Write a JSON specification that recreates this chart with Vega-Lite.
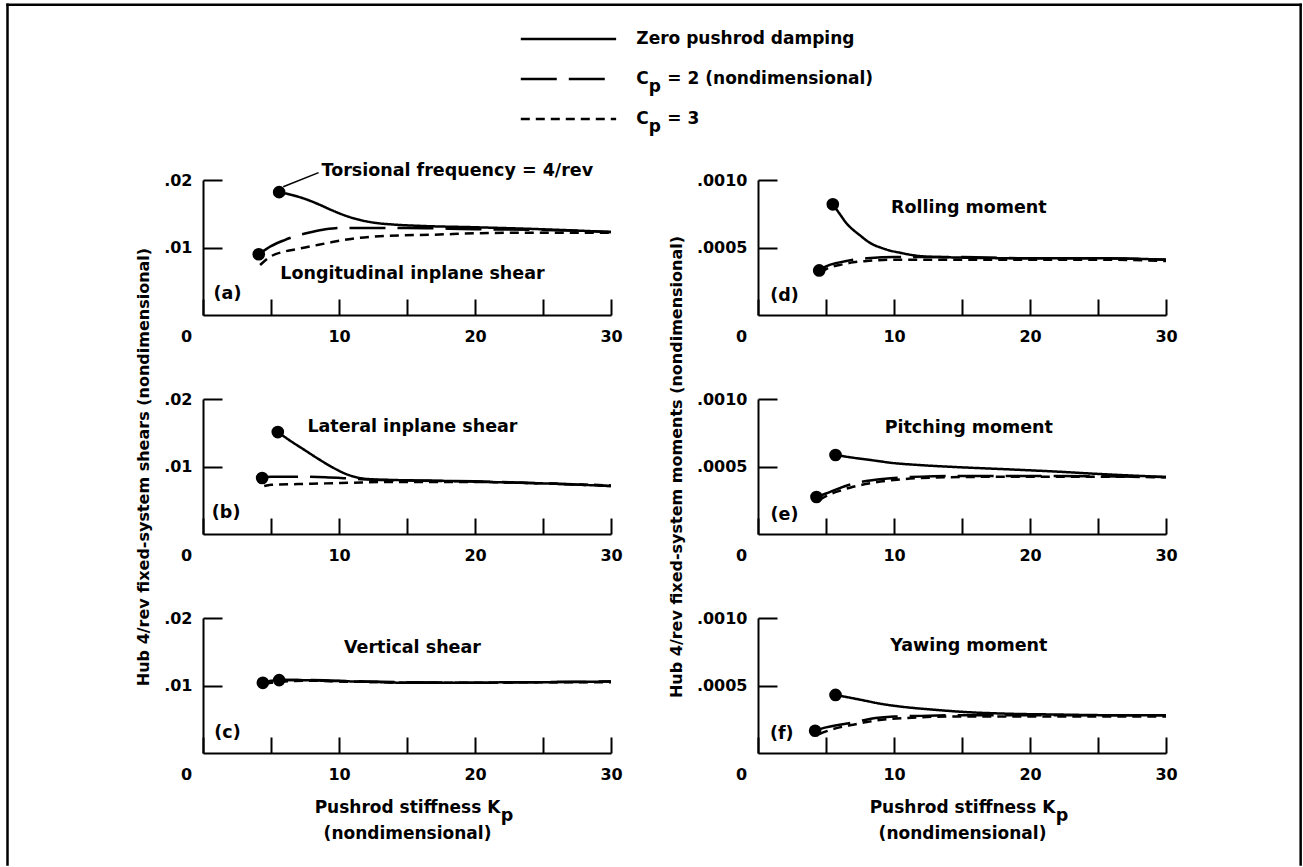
{
  "$schema": "https://vega.github.io/schema/vega-lite/v6.json",
  "background": "white",
  "padding": {"left": 5, "top": 2, "right": 0, "bottom": 0},
  "config": {
    "view": {"stroke": null},
    "line": {"interpolate": "monotone"},
    "axis": {"labelFont": "DejaVu Sans", "labelFontWeight": "bold", "labelFontSize": 16, "labelColor": "black", "titleFont": "DejaVu Sans", "titleFontWeight": "bold", "titleFontSize": 16, "titleColor": "black", "domainColor": "black", "domainWidth": 2, "tickColor": "black", "tickWidth": 2, "grid": false},
    "axisX": {"tickSize": -16, "labelPadding": 29, "labelFlush": false, "labelOverlap": false, "titlePadding": 17, "titleFontSize": 17, "titleLineHeight": 26},
    "axisY": {"tickSize": -19, "labelPadding": 30, "labelFlush": false, "labelOverlap": false, "titlePadding": 12}
  },
  "datasets": {
    "legend": [
      {"series": "Zero pushrod damping", "lead": "Zero pushrod damping", "sub": "", "rest": ""},
      {"series": "Cp = 2 (nondimensional)", "lead": "C", "sub": "p", "rest": "= 2 (nondimensional)"},
      {"series": "Cp = 3", "lead": "C", "sub": "p", "rest": "= 3"}
    ],
    "curves": [
      {"panel": "a", "series": "Zero pushrod damping", "K": 5.6, "value": 0.0182},
      {"panel": "a", "series": "Zero pushrod damping", "K": 6.5, "value": 0.0178},
      {"panel": "a", "series": "Zero pushrod damping", "K": 7.5, "value": 0.0172},
      {"panel": "a", "series": "Zero pushrod damping", "K": 8.5, "value": 0.0164},
      {"panel": "a", "series": "Zero pushrod damping", "K": 9.5, "value": 0.0155},
      {"panel": "a", "series": "Zero pushrod damping", "K": 10.5, "value": 0.0147},
      {"panel": "a", "series": "Zero pushrod damping", "K": 11.5, "value": 0.0141},
      {"panel": "a", "series": "Zero pushrod damping", "K": 12.5, "value": 0.0137},
      {"panel": "a", "series": "Zero pushrod damping", "K": 14, "value": 0.0134},
      {"panel": "a", "series": "Zero pushrod damping", "K": 16, "value": 0.0132},
      {"panel": "a", "series": "Zero pushrod damping", "K": 20, "value": 0.013},
      {"panel": "a", "series": "Zero pushrod damping", "K": 25, "value": 0.0127},
      {"panel": "a", "series": "Zero pushrod damping", "K": 30, "value": 0.0123},
      {"panel": "a", "series": "Cp = 2 (nondimensional)", "K": 4.1, "value": 0.009},
      {"panel": "a", "series": "Cp = 2 (nondimensional)", "K": 5, "value": 0.0102},
      {"panel": "a", "series": "Cp = 2 (nondimensional)", "K": 6, "value": 0.0111},
      {"panel": "a", "series": "Cp = 2 (nondimensional)", "K": 7, "value": 0.0118},
      {"panel": "a", "series": "Cp = 2 (nondimensional)", "K": 8, "value": 0.0123},
      {"panel": "a", "series": "Cp = 2 (nondimensional)", "K": 9, "value": 0.0127},
      {"panel": "a", "series": "Cp = 2 (nondimensional)", "K": 10, "value": 0.0129},
      {"panel": "a", "series": "Cp = 2 (nondimensional)", "K": 12, "value": 0.0129},
      {"panel": "a", "series": "Cp = 2 (nondimensional)", "K": 15, "value": 0.0129},
      {"panel": "a", "series": "Cp = 2 (nondimensional)", "K": 20, "value": 0.0127},
      {"panel": "a", "series": "Cp = 2 (nondimensional)", "K": 25, "value": 0.0126},
      {"panel": "a", "series": "Cp = 2 (nondimensional)", "K": 30, "value": 0.0123},
      {"panel": "a", "series": "Cp = 3", "K": 4.2, "value": 0.0074},
      {"panel": "a", "series": "Cp = 3", "K": 5, "value": 0.0087},
      {"panel": "a", "series": "Cp = 3", "K": 6, "value": 0.0094},
      {"panel": "a", "series": "Cp = 3", "K": 7, "value": 0.0098},
      {"panel": "a", "series": "Cp = 3", "K": 8, "value": 0.0102},
      {"panel": "a", "series": "Cp = 3", "K": 9.5, "value": 0.0108},
      {"panel": "a", "series": "Cp = 3", "K": 11, "value": 0.0113},
      {"panel": "a", "series": "Cp = 3", "K": 12.5, "value": 0.0116},
      {"panel": "a", "series": "Cp = 3", "K": 14.5, "value": 0.0118},
      {"panel": "a", "series": "Cp = 3", "K": 17, "value": 0.0119},
      {"panel": "a", "series": "Cp = 3", "K": 20, "value": 0.0121},
      {"panel": "a", "series": "Cp = 3", "K": 25, "value": 0.0122},
      {"panel": "a", "series": "Cp = 3", "K": 30, "value": 0.0122},

      {"panel": "b", "series": "Zero pushrod damping", "K": 5.5, "value": 0.0151},
      {"panel": "b", "series": "Zero pushrod damping", "K": 6.5, "value": 0.0137},
      {"panel": "b", "series": "Zero pushrod damping", "K": 7.5, "value": 0.0124},
      {"panel": "b", "series": "Zero pushrod damping", "K": 8.5, "value": 0.0111},
      {"panel": "b", "series": "Zero pushrod damping", "K": 9.5, "value": 0.0099},
      {"panel": "b", "series": "Zero pushrod damping", "K": 10.5, "value": 0.0089},
      {"panel": "b", "series": "Zero pushrod damping", "K": 11.5, "value": 0.0083},
      {"panel": "b", "series": "Zero pushrod damping", "K": 12.5, "value": 0.0081},
      {"panel": "b", "series": "Zero pushrod damping", "K": 14, "value": 0.008},
      {"panel": "b", "series": "Zero pushrod damping", "K": 17, "value": 0.0079},
      {"panel": "b", "series": "Zero pushrod damping", "K": 21, "value": 0.0077},
      {"panel": "b", "series": "Zero pushrod damping", "K": 25, "value": 0.0075},
      {"panel": "b", "series": "Zero pushrod damping", "K": 30, "value": 0.0071},
      {"panel": "b", "series": "Cp = 2 (nondimensional)", "K": 4.35, "value": 0.0083},
      {"panel": "b", "series": "Cp = 2 (nondimensional)", "K": 5, "value": 0.0085},
      {"panel": "b", "series": "Cp = 2 (nondimensional)", "K": 7, "value": 0.0085},
      {"panel": "b", "series": "Cp = 2 (nondimensional)", "K": 9, "value": 0.0084},
      {"panel": "b", "series": "Cp = 2 (nondimensional)", "K": 11, "value": 0.0082},
      {"panel": "b", "series": "Cp = 2 (nondimensional)", "K": 13, "value": 0.008},
      {"panel": "b", "series": "Cp = 2 (nondimensional)", "K": 16, "value": 0.0079},
      {"panel": "b", "series": "Cp = 2 (nondimensional)", "K": 20, "value": 0.0078},
      {"panel": "b", "series": "Cp = 2 (nondimensional)", "K": 25, "value": 0.0075},
      {"panel": "b", "series": "Cp = 2 (nondimensional)", "K": 30, "value": 0.0071},
      {"panel": "b", "series": "Cp = 3", "K": 4.5, "value": 0.0071},
      {"panel": "b", "series": "Cp = 3", "K": 5, "value": 0.0073},
      {"panel": "b", "series": "Cp = 3", "K": 7, "value": 0.0074},
      {"panel": "b", "series": "Cp = 3", "K": 9, "value": 0.0075},
      {"panel": "b", "series": "Cp = 3", "K": 11, "value": 0.0076},
      {"panel": "b", "series": "Cp = 3", "K": 13, "value": 0.0077},
      {"panel": "b", "series": "Cp = 3", "K": 16, "value": 0.0077},
      {"panel": "b", "series": "Cp = 3", "K": 20, "value": 0.0077},
      {"panel": "b", "series": "Cp = 3", "K": 25, "value": 0.0075},
      {"panel": "b", "series": "Cp = 3", "K": 30, "value": 0.0072},

      {"panel": "c", "series": "Zero pushrod damping", "K": 5.6, "value": 0.0108},
      {"panel": "c", "series": "Zero pushrod damping", "K": 7, "value": 0.0108},
      {"panel": "c", "series": "Zero pushrod damping", "K": 9, "value": 0.0107},
      {"panel": "c", "series": "Zero pushrod damping", "K": 11, "value": 0.0106},
      {"panel": "c", "series": "Zero pushrod damping", "K": 13, "value": 0.0105},
      {"panel": "c", "series": "Zero pushrod damping", "K": 15, "value": 0.0104},
      {"panel": "c", "series": "Zero pushrod damping", "K": 18, "value": 0.0104},
      {"panel": "c", "series": "Zero pushrod damping", "K": 20, "value": 0.0104},
      {"panel": "c", "series": "Zero pushrod damping", "K": 23, "value": 0.0105},
      {"panel": "c", "series": "Zero pushrod damping", "K": 26, "value": 0.0105},
      {"panel": "c", "series": "Zero pushrod damping", "K": 30, "value": 0.0106},
      {"panel": "c", "series": "Cp = 2 (nondimensional)", "K": 4.4, "value": 0.0104},
      {"panel": "c", "series": "Cp = 2 (nondimensional)", "K": 5, "value": 0.0107},
      {"panel": "c", "series": "Cp = 2 (nondimensional)", "K": 6, "value": 0.0108},
      {"panel": "c", "series": "Cp = 2 (nondimensional)", "K": 8, "value": 0.0108},
      {"panel": "c", "series": "Cp = 2 (nondimensional)", "K": 10, "value": 0.0107},
      {"panel": "c", "series": "Cp = 2 (nondimensional)", "K": 12, "value": 0.0106},
      {"panel": "c", "series": "Cp = 2 (nondimensional)", "K": 15, "value": 0.0105},
      {"panel": "c", "series": "Cp = 2 (nondimensional)", "K": 20, "value": 0.0104},
      {"panel": "c", "series": "Cp = 2 (nondimensional)", "K": 25, "value": 0.0105},
      {"panel": "c", "series": "Cp = 2 (nondimensional)", "K": 30, "value": 0.0106},
      {"panel": "c", "series": "Cp = 3", "K": 4.5, "value": 0.0102},
      {"panel": "c", "series": "Cp = 3", "K": 5, "value": 0.0104},
      {"panel": "c", "series": "Cp = 3", "K": 6, "value": 0.0106},
      {"panel": "c", "series": "Cp = 3", "K": 8, "value": 0.0107},
      {"panel": "c", "series": "Cp = 3", "K": 10, "value": 0.0106},
      {"panel": "c", "series": "Cp = 3", "K": 13, "value": 0.0105},
      {"panel": "c", "series": "Cp = 3", "K": 16, "value": 0.0104},
      {"panel": "c", "series": "Cp = 3", "K": 20, "value": 0.0104},
      {"panel": "c", "series": "Cp = 3", "K": 25, "value": 0.0105},
      {"panel": "c", "series": "Cp = 3", "K": 30, "value": 0.0105},

      {"panel": "d", "series": "Zero pushrod damping", "K": 5.5, "value": 0.00082},
      {"panel": "d", "series": "Zero pushrod damping", "K": 6, "value": 0.00075},
      {"panel": "d", "series": "Zero pushrod damping", "K": 6.5, "value": 0.00068},
      {"panel": "d", "series": "Zero pushrod damping", "K": 7, "value": 0.00063},
      {"panel": "d", "series": "Zero pushrod damping", "K": 7.5, "value": 0.00059},
      {"panel": "d", "series": "Zero pushrod damping", "K": 8, "value": 0.00055},
      {"panel": "d", "series": "Zero pushrod damping", "K": 8.5, "value": 0.00052},
      {"panel": "d", "series": "Zero pushrod damping", "K": 9, "value": 0.0005},
      {"panel": "d", "series": "Zero pushrod damping", "K": 9.6, "value": 0.00048},
      {"panel": "d", "series": "Zero pushrod damping", "K": 10.5, "value": 0.00046},
      {"panel": "d", "series": "Zero pushrod damping", "K": 11.6, "value": 0.00044},
      {"panel": "d", "series": "Zero pushrod damping", "K": 13, "value": 0.00043},
      {"panel": "d", "series": "Zero pushrod damping", "K": 20, "value": 0.00042},
      {"panel": "d", "series": "Zero pushrod damping", "K": 25, "value": 0.00042},
      {"panel": "d", "series": "Zero pushrod damping", "K": 30, "value": 0.00041},
      {"panel": "d", "series": "Cp = 2 (nondimensional)", "K": 4.5, "value": 0.00033},
      {"panel": "d", "series": "Cp = 2 (nondimensional)", "K": 5, "value": 0.00036},
      {"panel": "d", "series": "Cp = 2 (nondimensional)", "K": 6, "value": 0.00039},
      {"panel": "d", "series": "Cp = 2 (nondimensional)", "K": 7, "value": 0.00041},
      {"panel": "d", "series": "Cp = 2 (nondimensional)", "K": 8, "value": 0.00042},
      {"panel": "d", "series": "Cp = 2 (nondimensional)", "K": 10, "value": 0.00043},
      {"panel": "d", "series": "Cp = 2 (nondimensional)", "K": 15, "value": 0.00043},
      {"panel": "d", "series": "Cp = 2 (nondimensional)", "K": 20, "value": 0.00042},
      {"panel": "d", "series": "Cp = 2 (nondimensional)", "K": 25, "value": 0.00042},
      {"panel": "d", "series": "Cp = 2 (nondimensional)", "K": 30, "value": 0.00041},
      {"panel": "d", "series": "Cp = 3", "K": 4.6, "value": 0.00031},
      {"panel": "d", "series": "Cp = 3", "K": 5, "value": 0.00034},
      {"panel": "d", "series": "Cp = 3", "K": 6, "value": 0.00037},
      {"panel": "d", "series": "Cp = 3", "K": 7, "value": 0.00039},
      {"panel": "d", "series": "Cp = 3", "K": 8, "value": 0.0004},
      {"panel": "d", "series": "Cp = 3", "K": 10, "value": 0.00041},
      {"panel": "d", "series": "Cp = 3", "K": 15, "value": 0.00041},
      {"panel": "d", "series": "Cp = 3", "K": 20, "value": 0.00041},
      {"panel": "d", "series": "Cp = 3", "K": 25, "value": 0.00041},
      {"panel": "d", "series": "Cp = 3", "K": 30, "value": 0.0004},

      {"panel": "e", "series": "Zero pushrod damping", "K": 5.7, "value": 0.000585},
      {"panel": "e", "series": "Zero pushrod damping", "K": 7, "value": 0.000565},
      {"panel": "e", "series": "Zero pushrod damping", "K": 8.5, "value": 0.000545},
      {"panel": "e", "series": "Zero pushrod damping", "K": 10, "value": 0.000525},
      {"panel": "e", "series": "Zero pushrod damping", "K": 12, "value": 0.00051},
      {"panel": "e", "series": "Zero pushrod damping", "K": 14.5, "value": 0.000496},
      {"panel": "e", "series": "Zero pushrod damping", "K": 17, "value": 0.000485},
      {"panel": "e", "series": "Zero pushrod damping", "K": 19.5, "value": 0.000474},
      {"panel": "e", "series": "Zero pushrod damping", "K": 22, "value": 0.000462},
      {"panel": "e", "series": "Zero pushrod damping", "K": 25, "value": 0.000445},
      {"panel": "e", "series": "Zero pushrod damping", "K": 30, "value": 0.000422},
      {"panel": "e", "series": "Cp = 2 (nondimensional)", "K": 4.3, "value": 0.000274},
      {"panel": "e", "series": "Cp = 2 (nondimensional)", "K": 5, "value": 0.0003},
      {"panel": "e", "series": "Cp = 2 (nondimensional)", "K": 6, "value": 0.00034},
      {"panel": "e", "series": "Cp = 2 (nondimensional)", "K": 7.2, "value": 0.000378},
      {"panel": "e", "series": "Cp = 2 (nondimensional)", "K": 8.5, "value": 0.0004},
      {"panel": "e", "series": "Cp = 2 (nondimensional)", "K": 10, "value": 0.000415},
      {"panel": "e", "series": "Cp = 2 (nondimensional)", "K": 12, "value": 0.000425},
      {"panel": "e", "series": "Cp = 2 (nondimensional)", "K": 15, "value": 0.00043},
      {"panel": "e", "series": "Cp = 2 (nondimensional)", "K": 20, "value": 0.00043},
      {"panel": "e", "series": "Cp = 2 (nondimensional)", "K": 25, "value": 0.000428},
      {"panel": "e", "series": "Cp = 2 (nondimensional)", "K": 30, "value": 0.000422},
      {"panel": "e", "series": "Cp = 3", "K": 4.5, "value": 0.00025},
      {"panel": "e", "series": "Cp = 3", "K": 5, "value": 0.00028},
      {"panel": "e", "series": "Cp = 3", "K": 6, "value": 0.00032},
      {"panel": "e", "series": "Cp = 3", "K": 7, "value": 0.00035},
      {"panel": "e", "series": "Cp = 3", "K": 8.5, "value": 0.00038},
      {"panel": "e", "series": "Cp = 3", "K": 10, "value": 0.0004},
      {"panel": "e", "series": "Cp = 3", "K": 12, "value": 0.000415},
      {"panel": "e", "series": "Cp = 3", "K": 15, "value": 0.000422},
      {"panel": "e", "series": "Cp = 3", "K": 20, "value": 0.000425},
      {"panel": "e", "series": "Cp = 3", "K": 25, "value": 0.000425},
      {"panel": "e", "series": "Cp = 3", "K": 30, "value": 0.00042},

      {"panel": "f", "series": "Zero pushrod damping", "K": 5.7, "value": 0.00043},
      {"panel": "f", "series": "Zero pushrod damping", "K": 7, "value": 0.000405},
      {"panel": "f", "series": "Zero pushrod damping", "K": 8, "value": 0.000385},
      {"panel": "f", "series": "Zero pushrod damping", "K": 9, "value": 0.000365},
      {"panel": "f", "series": "Zero pushrod damping", "K": 10, "value": 0.00035},
      {"panel": "f", "series": "Zero pushrod damping", "K": 11.5, "value": 0.000333},
      {"panel": "f", "series": "Zero pushrod damping", "K": 13, "value": 0.00032},
      {"panel": "f", "series": "Zero pushrod damping", "K": 15, "value": 0.000305},
      {"panel": "f", "series": "Zero pushrod damping", "K": 18, "value": 0.000292},
      {"panel": "f", "series": "Zero pushrod damping", "K": 22, "value": 0.000285},
      {"panel": "f", "series": "Zero pushrod damping", "K": 26, "value": 0.00028},
      {"panel": "f", "series": "Zero pushrod damping", "K": 30, "value": 0.00028},
      {"panel": "f", "series": "Cp = 2 (nondimensional)", "K": 4.2, "value": 0.000165},
      {"panel": "f", "series": "Cp = 2 (nondimensional)", "K": 5, "value": 0.00019},
      {"panel": "f", "series": "Cp = 2 (nondimensional)", "K": 6, "value": 0.00021},
      {"panel": "f", "series": "Cp = 2 (nondimensional)", "K": 7.2, "value": 0.00023},
      {"panel": "f", "series": "Cp = 2 (nondimensional)", "K": 8.3, "value": 0.000254},
      {"panel": "f", "series": "Cp = 2 (nondimensional)", "K": 10, "value": 0.00027},
      {"panel": "f", "series": "Cp = 2 (nondimensional)", "K": 12, "value": 0.000275},
      {"panel": "f", "series": "Cp = 2 (nondimensional)", "K": 15, "value": 0.00028},
      {"panel": "f", "series": "Cp = 2 (nondimensional)", "K": 20, "value": 0.00028},
      {"panel": "f", "series": "Cp = 2 (nondimensional)", "K": 25, "value": 0.00028},
      {"panel": "f", "series": "Cp = 2 (nondimensional)", "K": 30, "value": 0.00028},
      {"panel": "f", "series": "Cp = 3", "K": 4.5, "value": 0.00014},
      {"panel": "f", "series": "Cp = 3", "K": 5, "value": 0.00016},
      {"panel": "f", "series": "Cp = 3", "K": 6, "value": 0.00019},
      {"panel": "f", "series": "Cp = 3", "K": 7, "value": 0.00021},
      {"panel": "f", "series": "Cp = 3", "K": 8, "value": 0.00023},
      {"panel": "f", "series": "Cp = 3", "K": 9.5, "value": 0.00025},
      {"panel": "f", "series": "Cp = 3", "K": 11, "value": 0.00026},
      {"panel": "f", "series": "Cp = 3", "K": 14, "value": 0.00027},
      {"panel": "f", "series": "Cp = 3", "K": 18, "value": 0.00027},
      {"panel": "f", "series": "Cp = 3", "K": 22, "value": 0.00027},
      {"panel": "f", "series": "Cp = 3", "K": 26, "value": 0.00027},
      {"panel": "f", "series": "Cp = 3", "K": 30, "value": 0.00027}
    ],
    "dots": [
      {"panel": "a", "series": "Zero pushrod damping", "K": 5.6, "value": 0.0182},
      {"panel": "a", "series": "Cp = 2 (nondimensional)", "K": 4.1, "value": 0.009},
      {"panel": "b", "series": "Zero pushrod damping", "K": 5.5, "value": 0.0151},
      {"panel": "b", "series": "Cp = 2 (nondimensional)", "K": 4.35, "value": 0.0083},
      {"panel": "c", "series": "Zero pushrod damping", "K": 5.6, "value": 0.0108},
      {"panel": "c", "series": "Cp = 2 (nondimensional)", "K": 4.4, "value": 0.0104},
      {"panel": "d", "series": "Zero pushrod damping", "K": 5.5, "value": 0.00082},
      {"panel": "d", "series": "Cp = 2 (nondimensional)", "K": 4.5, "value": 0.00033},
      {"panel": "e", "series": "Zero pushrod damping", "K": 5.7, "value": 0.000585},
      {"panel": "e", "series": "Cp = 2 (nondimensional)", "K": 4.3, "value": 0.000274},
      {"panel": "f", "series": "Zero pushrod damping", "K": 5.7, "value": 0.00043},
      {"panel": "f", "series": "Cp = 2 (nondimensional)", "K": 4.2, "value": 0.000165}
    ],
    "notes": [
      {"panel": "a", "text": "Torsional frequency = 4/rev", "K": 18.7, "value": 0.0213},
      {"panel": "a", "text": "Longitudinal inplane shear", "K": 15.4, "value": 0.0061},
      {"panel": "a", "text": "(a)", "K": 1.8, "value": 0.0031},
      {"panel": "b", "text": "Lateral inplane shear", "K": 15.4, "value": 0.0159},
      {"panel": "b", "text": "(b)", "K": 1.7, "value": 0.0031},
      {"panel": "c", "text": "Vertical shear", "K": 15.4, "value": 0.0156},
      {"panel": "c", "text": "(c)", "K": 1.8, "value": 0.003},
      {"panel": "c", "text": "p", "K": 22.35, "value": -0.0094},
      {"panel": "d", "text": "Rolling moment", "K": 15.5, "value": 0.00079},
      {"panel": "d", "text": "(d)", "K": 1.95, "value": 0.00014},
      {"panel": "e", "text": "Pitching moment", "K": 15.5, "value": 0.000785},
      {"panel": "e", "text": "(e)", "K": 1.95, "value": 0.00014},
      {"panel": "f", "text": "Yawing moment", "K": 15.5, "value": 0.00079},
      {"panel": "f", "text": "(f)", "K": 1.75, "value": 0.00014},
      {"panel": "f", "text": "p", "K": 22.35, "value": -0.00047}
    ],
    "leaders": [
      {"panel": "a", "K": 5.9, "value": 0.019, "K2": 8.5, "value2": 0.0211}
    ]
  },
  "vconcat": [
    {
      "width": 963,
      "height": 80,
      "data": {"name": "legend"},
      "encoding": {
        "y": {"field": "series", "type": "nominal", "scale": {"type": "point", "padding": 0, "domain": ["Zero pushrod damping", "Cp = 2 (nondimensional)", "Cp = 3"]}, "axis": null}
      },
      "layer": [
        {
          "mark": {"type": "rule", "color": "black", "strokeWidth": 2.5},
          "encoding": {
            "x": {"datum": 9.9, "type": "quantitative", "scale": {"domain": [0, 30], "nice": false}, "axis": null},
            "x2": {"datum": 12.87},
            "strokeDash": {"field": "series", "type": "nominal", "scale": {"domain": ["Zero pushrod damping", "Cp = 2 (nondimensional)", "Cp = 3"], "range": [[1, 0], [36, 12], [9, 6]]}, "legend": null}
          }
        },
        {
          "mark": {"type": "text", "align": "left", "baseline": "middle", "font": "DejaVu Sans", "fontWeight": "bold", "fontSize": 17, "color": "black"},
          "encoding": {"x": {"datum": 13.5, "type": "quantitative"}, "text": {"field": "lead"}}
        },
        {
          "mark": {"type": "text", "align": "left", "baseline": "middle", "font": "DejaVu Sans", "fontWeight": "bold", "fontSize": 17, "color": "black", "dx": 12.5, "dy": 8},
          "encoding": {"x": {"datum": 13.5, "type": "quantitative"}, "text": {"field": "sub"}}
        },
        {
          "mark": {"type": "text", "align": "left", "baseline": "middle", "font": "DejaVu Sans", "fontWeight": "bold", "fontSize": 17, "color": "black", "dx": 31},
          "encoding": {"x": {"datum": 13.5, "type": "quantitative"}, "text": {"field": "rest"}}
        }
      ]
    },
    {
      "concat": [
        {
          "width": 408, "height": 135,
          "layer": [
            {"data": {"name": "curves"}, "transform": [{"filter": "datum.panel === 'a'"}],
             "mark": {"type": "line", "color": "black", "strokeWidth": 2.5},
             "encoding": {
               "x": {"field": "K", "type": "quantitative", "scale": {"domain": [0, 30], "nice": false}, "axis": {"values": [0, 5, 10, 15, 20, 25, 30], "labelExpr": "datum.value % 10 === 0 ? datum.label : ''", "labelOffset": {"condition": {"test": "datum.value === 0", "value": -17}, "value": 0}, "title": null}},
               "y": {"field": "value", "type": "quantitative", "scale": {"domain": [0, 0.02], "nice": false}, "axis": {"values": [0.01, 0.02], "labelExpr": "replace(format(datum.value, '.2f'), '0.', '.')", "title": null}},
               "strokeDash": {"field": "series", "type": "nominal", "scale": {"domain": ["Zero pushrod damping", "Cp = 2 (nondimensional)", "Cp = 3"], "range": [[1, 0], [36, 10], [9, 6]]}, "legend": null}
             }},
            {"data": {"name": "dots"}, "transform": [{"filter": "datum.panel === 'a'"}],
             "mark": {"type": "circle", "color": "black", "size": 160, "opacity": 1},
             "encoding": {"x": {"field": "K", "type": "quantitative"}, "y": {"field": "value", "type": "quantitative"}}},
            {"data": {"name": "leaders"}, "transform": [{"filter": "datum.panel === 'a'"}],
             "mark": {"type": "rule", "color": "black", "strokeWidth": 1.5},
             "encoding": {"x": {"field": "K", "type": "quantitative"}, "y": {"field": "value", "type": "quantitative"}, "x2": {"field": "K2"}, "y2": {"field": "value2"}}},
            {"data": {"name": "notes"}, "transform": [{"filter": "datum.panel === 'a'"}],
             "mark": {"type": "text", "align": "center", "baseline": "middle", "font": "DejaVu Sans", "fontWeight": "bold", "fontSize": 17.5, "color": "black"},
             "encoding": {"x": {"field": "K", "type": "quantitative"}, "y": {"field": "value", "type": "quantitative"}, "text": {"field": "text"}}},
            {"data": {"name": "leaders"}, "transform": [{"filter": "datum.panel === 'a'"}],
             "mark": {"type": "rule", "color": "black", "strokeWidth": 2.5, "strokeCap": "square"},
             "encoding": {"x": {"datum": -14.375, "type": "quantitative"}, "y": {"datum": 0.04597, "type": "quantitative"}, "y2": {"datum": -0.08141}}},
            {"data": {"name": "leaders"}, "transform": [{"filter": "datum.panel === 'a'"}],
             "mark": {"type": "rule", "color": "black", "strokeWidth": 2.5, "strokeCap": "square"},
             "encoding": {"x": {"datum": -14.375, "type": "quantitative"}, "x2": {"datum": 80.71}, "y": {"datum": 0.04597, "type": "quantitative"}}},
            {"data": {"name": "leaders"}, "transform": [{"filter": "datum.panel === 'a'"}],
             "mark": {"type": "rule", "color": "black", "strokeWidth": 2.5, "strokeCap": "square"},
             "encoding": {"x": {"datum": 80.71, "type": "quantitative"}, "y": {"datum": 0.04597, "type": "quantitative"}, "y2": {"datum": -0.08141}}}
          ]
        },
        {
          "width": 408, "height": 135,
          "layer": [
            {"data": {"name": "curves"}, "transform": [{"filter": "datum.panel === 'd'"}],
             "mark": {"type": "line", "color": "black", "strokeWidth": 2.5},
             "encoding": {
               "x": {"field": "K", "type": "quantitative", "scale": {"domain": [0, 30], "nice": false}, "axis": {"values": [0, 5, 10, 15, 20, 25, 30], "labelExpr": "datum.value % 10 === 0 ? datum.label : ''", "labelOffset": {"condition": {"test": "datum.value === 0", "value": -17}, "value": 0}, "title": null}},
               "y": {"field": "value", "type": "quantitative", "scale": {"domain": [0, 0.001], "nice": false}, "axis": {"values": [0.0005, 0.001], "labelExpr": "replace(format(datum.value, '.4f'), '0.', '.')", "title": null}},
               "strokeDash": {"field": "series", "type": "nominal", "scale": {"domain": ["Zero pushrod damping", "Cp = 2 (nondimensional)", "Cp = 3"], "range": [[1, 0], [36, 10], [9, 6]]}, "legend": null}
             }},
            {"data": {"name": "dots"}, "transform": [{"filter": "datum.panel === 'd'"}],
             "mark": {"type": "circle", "color": "black", "size": 160, "opacity": 1},
             "encoding": {"x": {"field": "K", "type": "quantitative"}, "y": {"field": "value", "type": "quantitative"}}},
            {"data": {"name": "notes"}, "transform": [{"filter": "datum.panel === 'd'"}],
             "mark": {"type": "text", "align": "center", "baseline": "middle", "font": "DejaVu Sans", "fontWeight": "bold", "fontSize": 17.5, "color": "black"},
             "encoding": {"x": {"field": "K", "type": "quantitative"}, "y": {"field": "value", "type": "quantitative"}, "text": {"field": "text"}}}
          ]
        },
        {
          "width": 408, "height": 135,
          "layer": [
            {"data": {"name": "curves"}, "transform": [{"filter": "datum.panel === 'b'"}],
             "mark": {"type": "line", "color": "black", "strokeWidth": 2.5},
             "encoding": {
               "x": {"field": "K", "type": "quantitative", "scale": {"domain": [0, 30], "nice": false}, "axis": {"values": [0, 5, 10, 15, 20, 25, 30], "labelExpr": "datum.value % 10 === 0 ? datum.label : ''", "labelOffset": {"condition": {"test": "datum.value === 0", "value": -17}, "value": 0}, "title": null}},
               "y": {"field": "value", "type": "quantitative", "scale": {"domain": [0, 0.02], "nice": false}, "axis": {"values": [0.01, 0.02], "labelExpr": "replace(format(datum.value, '.2f'), '0.', '.')", "title": "Hub 4/rev fixed-system shears (nondimensional)"}},
               "strokeDash": {"field": "series", "type": "nominal", "scale": {"domain": ["Zero pushrod damping", "Cp = 2 (nondimensional)", "Cp = 3"], "range": [[1, 0], [36, 10], [9, 6]]}, "legend": null}
             }},
            {"data": {"name": "dots"}, "transform": [{"filter": "datum.panel === 'b'"}],
             "mark": {"type": "circle", "color": "black", "size": 160, "opacity": 1},
             "encoding": {"x": {"field": "K", "type": "quantitative"}, "y": {"field": "value", "type": "quantitative"}}},
            {"data": {"name": "notes"}, "transform": [{"filter": "datum.panel === 'b'"}],
             "mark": {"type": "text", "align": "center", "baseline": "middle", "font": "DejaVu Sans", "fontWeight": "bold", "fontSize": 17.5, "color": "black"},
             "encoding": {"x": {"field": "K", "type": "quantitative"}, "y": {"field": "value", "type": "quantitative"}, "text": {"field": "text"}}}
          ]
        },
        {
          "width": 408, "height": 135,
          "layer": [
            {"data": {"name": "curves"}, "transform": [{"filter": "datum.panel === 'e'"}],
             "mark": {"type": "line", "color": "black", "strokeWidth": 2.5},
             "encoding": {
               "x": {"field": "K", "type": "quantitative", "scale": {"domain": [0, 30], "nice": false}, "axis": {"values": [0, 5, 10, 15, 20, 25, 30], "labelExpr": "datum.value % 10 === 0 ? datum.label : ''", "labelOffset": {"condition": {"test": "datum.value === 0", "value": -17}, "value": 0}, "title": null}},
               "y": {"field": "value", "type": "quantitative", "scale": {"domain": [0, 0.001], "nice": false}, "axis": {"values": [0.0005, 0.001], "labelExpr": "replace(format(datum.value, '.4f'), '0.', '.')", "title": "Hub 4/rev fixed-system moments (nondimensional)"}},
               "strokeDash": {"field": "series", "type": "nominal", "scale": {"domain": ["Zero pushrod damping", "Cp = 2 (nondimensional)", "Cp = 3"], "range": [[1, 0], [36, 10], [9, 6]]}, "legend": null}
             }},
            {"data": {"name": "dots"}, "transform": [{"filter": "datum.panel === 'e'"}],
             "mark": {"type": "circle", "color": "black", "size": 160, "opacity": 1},
             "encoding": {"x": {"field": "K", "type": "quantitative"}, "y": {"field": "value", "type": "quantitative"}}},
            {"data": {"name": "notes"}, "transform": [{"filter": "datum.panel === 'e'"}],
             "mark": {"type": "text", "align": "center", "baseline": "middle", "font": "DejaVu Sans", "fontWeight": "bold", "fontSize": 17.5, "color": "black"},
             "encoding": {"x": {"field": "K", "type": "quantitative"}, "y": {"field": "value", "type": "quantitative"}, "text": {"field": "text"}}}
          ]
        },
        {
          "width": 408, "height": 135,
          "layer": [
            {"data": {"name": "curves"}, "transform": [{"filter": "datum.panel === 'c'"}],
             "mark": {"type": "line", "color": "black", "strokeWidth": 2.5},
             "encoding": {
               "x": {"field": "K", "type": "quantitative", "scale": {"domain": [0, 30], "nice": false}, "axis": {"values": [0, 5, 10, 15, 20, 25, 30], "labelExpr": "datum.value % 10 === 0 ? datum.label : ''", "labelOffset": {"condition": {"test": "datum.value === 0", "value": -17}, "value": 0}, "title": ["Pushrod stiffness K", "(nondimensional)"]}},
               "y": {"field": "value", "type": "quantitative", "scale": {"domain": [0, 0.02], "nice": false}, "axis": {"values": [0.01, 0.02], "labelExpr": "replace(format(datum.value, '.2f'), '0.', '.')", "title": null}},
               "strokeDash": {"field": "series", "type": "nominal", "scale": {"domain": ["Zero pushrod damping", "Cp = 2 (nondimensional)", "Cp = 3"], "range": [[1, 0], [36, 10], [9, 6]]}, "legend": null}
             }},
            {"data": {"name": "dots"}, "transform": [{"filter": "datum.panel === 'c'"}],
             "mark": {"type": "circle", "color": "black", "size": 160, "opacity": 1},
             "encoding": {"x": {"field": "K", "type": "quantitative"}, "y": {"field": "value", "type": "quantitative"}}},
            {"data": {"name": "notes"}, "transform": [{"filter": "datum.panel === 'c'"}],
             "mark": {"type": "text", "align": "center", "baseline": "middle", "font": "DejaVu Sans", "fontWeight": "bold", "fontSize": 17.5, "color": "black"},
             "encoding": {"x": {"field": "K", "type": "quantitative"}, "y": {"field": "value", "type": "quantitative"}, "text": {"field": "text"}}}
          ]
        },
        {
          "width": 408, "height": 135,
          "layer": [
            {"data": {"name": "curves"}, "transform": [{"filter": "datum.panel === 'f'"}],
             "mark": {"type": "line", "color": "black", "strokeWidth": 2.5},
             "encoding": {
               "x": {"field": "K", "type": "quantitative", "scale": {"domain": [0, 30], "nice": false}, "axis": {"values": [0, 5, 10, 15, 20, 25, 30], "labelExpr": "datum.value % 10 === 0 ? datum.label : ''", "labelOffset": {"condition": {"test": "datum.value === 0", "value": -17}, "value": 0}, "title": ["Pushrod stiffness K", "(nondimensional)"]}},
               "y": {"field": "value", "type": "quantitative", "scale": {"domain": [0, 0.001], "nice": false}, "axis": {"values": [0.0005, 0.001], "labelExpr": "replace(format(datum.value, '.4f'), '0.', '.')", "title": null}},
               "strokeDash": {"field": "series", "type": "nominal", "scale": {"domain": ["Zero pushrod damping", "Cp = 2 (nondimensional)", "Cp = 3"], "range": [[1, 0], [36, 10], [9, 6]]}, "legend": null}
             }},
            {"data": {"name": "dots"}, "transform": [{"filter": "datum.panel === 'f'"}],
             "mark": {"type": "circle", "color": "black", "size": 160, "opacity": 1},
             "encoding": {"x": {"field": "K", "type": "quantitative"}, "y": {"field": "value", "type": "quantitative"}}},
            {"data": {"name": "notes"}, "transform": [{"filter": "datum.panel === 'f'"}],
             "mark": {"type": "text", "align": "center", "baseline": "middle", "font": "DejaVu Sans", "fontWeight": "bold", "fontSize": 17.5, "color": "black"},
             "encoding": {"x": {"field": "K", "type": "quantitative"}, "y": {"field": "value", "type": "quantitative"}, "text": {"field": "text"}}}
          ]
        }
      ],
      "columns": 2,
      "spacing": {"row": 84, "column": 147},
      "bounds": "flush"
    }
  ],
  "spacing": 61,
  "bounds": "flush"
}
